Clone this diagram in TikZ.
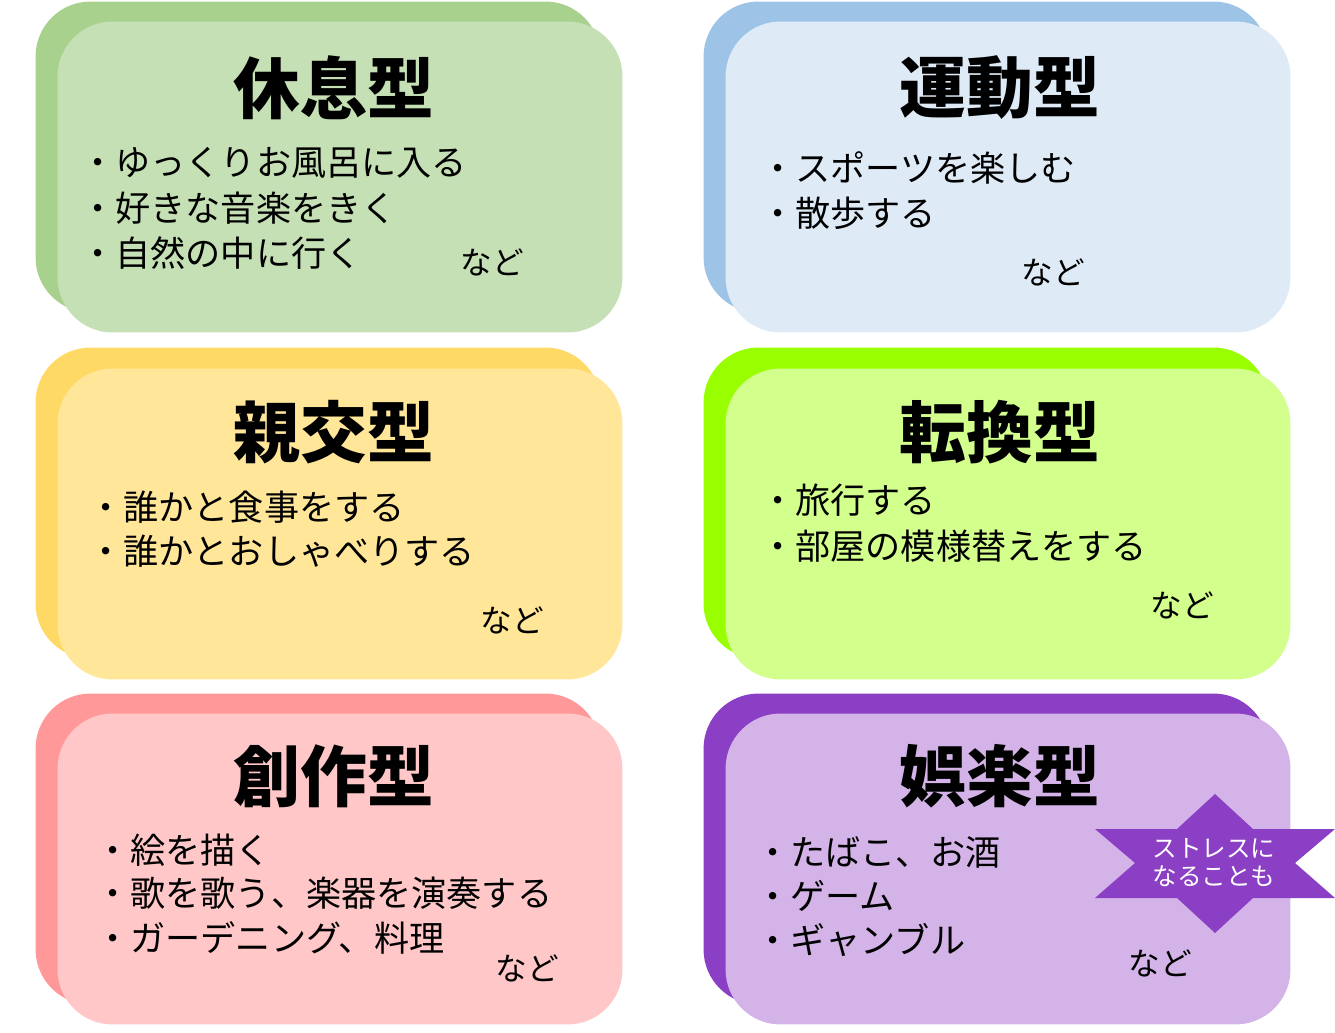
\documentclass[tikz,border=0pt]{standalone}
\usepackage{fontspec}
\setmainfont{Noto Sans CJK JP}
\usetikzlibrary{positioning}
\definecolor{restback}{HTML}{A9D18E}
\definecolor{restfront}{HTML}{C5E0B4}
\definecolor{sportback}{HTML}{9DC3E6}
\definecolor{sportfront}{HTML}{DEEBF7}
\definecolor{socialback}{HTML}{FFD966}
\definecolor{socialfront}{HTML}{FFE699}
\definecolor{changeback}{HTML}{99FF00}
\definecolor{changefront}{HTML}{D3FF8C}
\definecolor{makeback}{HTML}{FF9999}
\definecolor{makefront}{HTML}{FFC7C7}
\definecolor{funback}{HTML}{8B3FC4}
\definecolor{funfront}{HTML}{D4B4E8}

\tikzset{
  card/.style={rectangle, rounded corners=1.1cm, minimum width=11.3cm, minimum height=6.22cm, inner sep=0pt},
  title/.style={font=\fontsize{38}{42}\selectfont\bfseries, anchor=center},
  item/.style={font=\fontsize{20}{26}\selectfont, anchor=west, inner sep=0pt},
  etc/.style={font=\fontsize{18}{22}\selectfont, anchor=center, inner sep=0pt}
}

\begin{document}
\begin{tikzpicture}[x=0.02cm, y=-0.02cm]
\useasboundingbox (0,0) rectangle (1335,1033);

% back cards
\node[card, fill=restback] (restb) at (318,157) {};
\node[card, fill=sportback] (sportb) at (986,157) {};
\node[card, fill=socialback] (socialb) at (318,503) {};
\node[card, fill=changeback] (changeb) at (986,503) {};
\node[card, fill=makeback] (makeb) at (318,849) {};
\node[card, fill=funback] (funb) at (986,849) {};

% front cards
\node[card, fill=restfront] (rest) at (340,177) {};
\node[card, fill=sportfront] (sport) at (1008,177) {};
\node[card, fill=socialfront] (social) at (340,524) {};
\node[card, fill=changefront] (change) at (1008,524) {};
\node[card, fill=makefront] (make) at (340,869) {};
\node[card, fill=funfront] (fun) at (1008,869) {};

% titles
\node[title] (restt) at (334,88) {休息型};
\node[title] (sportt) at (1000,88) {運動型};
\node[title] (socialt) at (334,432) {親交型};
\node[title] (changet) at (1000,432) {転換型};
\node[title] (maket) at (334,776) {創作型};
\node[title] (funt) at (1000,776) {娯楽型};

% items
\node[item] (rest1) at (80,163) {・ゆっくりお風呂に入る};
\node[item] (rest2) at (80,208) {・好きな音楽をきく};
\node[item] (rest3) at (80,253) {・自然の中に行く};
\node[etc] (reste) at (492,262) {など};

\node[item] (sport1) at (760,168) {・スポーツを楽しむ};
\node[item] (sport2) at (760,213) {・散歩する};
\node[etc] (sporte) at (1053,272) {など};

\node[item] (social1) at (88,507) {・誰かと食事をする};
\node[item] (social2) at (88,551) {・誰かとおしゃべりする};
\node[etc] (sociale) at (512,620) {など};

\node[item] (change1) at (760,500) {・旅行する};
\node[item] (change2) at (760,546) {・部屋の模様替えをする};
\node[etc] (changee) at (1182,605) {など};

\node[item] (make1) at (95,850) {・絵を描く};
\node[item] (make2) at (95,893) {・歌を歌う、楽器を演奏する};
\node[item] (make3) at (95,938) {・ガーデニング、料理};
\node[etc] (makee) at (527,968) {など};

\node[item] (fun1) at (755,852) {・たばこ、お酒};
\node[item] (fun2) at (755,896) {・ゲーム};
\node[item] (fun3) at (755,940) {・ギャンブル};
\node[etc] (fune) at (1160,963) {など};

% warning star
\fill[funback] (1215,794) -- (1253,829) -- (1335,829) -- (1295,863) -- (1335,898)
  -- (1253,898) -- (1215,933) -- (1177,898) -- (1095,898) -- (1135,863)
  -- (1095,829) -- (1177,829) -- cycle;
\node[white, font=\fontsize{14}{16}\selectfont, align=center] (warn) at (1214,863) {ストレスに\\なることも};
\end{tikzpicture}
\end{document}
